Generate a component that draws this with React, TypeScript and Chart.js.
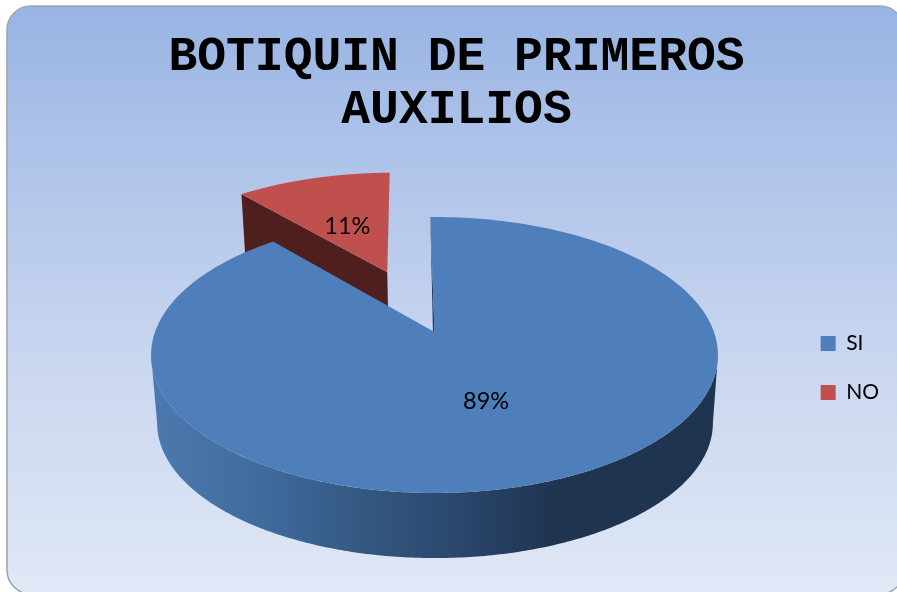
import React, { useEffect, useRef } from "react";
import { Chart, registerables } from "chart.js";

Chart.register(...registerables);

const categories = ["SI", "NO"];
const values = [89, 11];
const percentLabels = ["89%", "11%"];
const sliceColors = ["#4E7FBB", "#C0504D"];
const titleLines = ["BOTIQUIN DE PRIMEROS", "AUXILIOS"];
const explode = [0, 0.514];

const W = 911;
const H = 704;
const DEG = Math.PI / 180;

// perspective projection of the pie disc (unit circle) onto the canvas
const PERSP = 1 / 6;
const topPlane = { x: 434.5, y: 332, bx: 279.5, by: 134.17 };
const lowPlane = { x: 435, y: 400.5, bx: 274, by: 131.3 };

type Plane = typeof topPlane;
const project = (p: Plane, u: number, v: number): [number, number] => {
  const d = 1 + PERSP * v;
  return [p.x + (p.bx * u) / d, p.y - (p.by * v) / d];
};
// theta: clockwise from top, radians
const disc = (theta: number, r: number, ox: number, oy: number): [number, number] => [
  ox + r * Math.sin(theta),
  oy + r * Math.cos(theta),
];

const rimPath = (ctx: CanvasRenderingContext2D, p: Plane, a: number, b: number, ox: number, oy: number, first: boolean) => {
  const n = 240;
  for (let i = 0; i <= n; i++) {
    const t = a + ((b - a) * i) / n;
    const [u, v] = disc(t, 1, ox, oy);
    const [x, y] = project(p, u, v);
    if (i === 0 && first) ctx.moveTo(x, y);
    else ctx.lineTo(x, y);
  }
};

const cardPlugin = {
  id: "card",
  beforeDraw(chart: any) {
    const ctx: CanvasRenderingContext2D = chart.ctx;
    ctx.save();
    ctx.fillStyle = "#FFFFFF";
    ctx.fillRect(0, 0, W, H);
    const g = ctx.createLinearGradient(0, 6, 0, 594);
    g.addColorStop(0, "#98B4E3");
    g.addColorStop(0.25, "#AEC3E9");
    g.addColorStop(0.6, "#C9D6EF");
    g.addColorStop(1, "#E1E8F6");
    ctx.beginPath();
    ctx.roundRect(7, 6, 897, 588, 24);
    ctx.fillStyle = g;
    ctx.fill();
    ctx.lineWidth = 1.6;
    ctx.strokeStyle = "#A3A6AC";
    ctx.stroke();
    ctx.restore();
  },
};

const pie3dPlugin = {
  id: "pie3d",
  beforeDatasetsDraw(chart: any) {
    const ctx: CanvasRenderingContext2D = chart.ctx;
    const arcs = chart.getDatasetMeta(0).data;
    ctx.save();
    const parts = arcs.map((arc: any, i: number) => {
      const { startAngle, endAngle } = arc.getProps(["startAngle", "endAngle"], true);
      const a = startAngle + Math.PI / 2;
      const b = endAngle + Math.PI / 2;
      const mid = (a + b) / 2;
      const [ox, oy] = disc(mid, explode[i], 0, 0);
      return { a, b, mid, ox, oy, i };
    });

    // exploded slice: its visible cut face, then its top
    const red = parts[1];
    const [eu, ev] = disc(red.a, 1, red.ox, red.oy);
    ctx.beginPath();
    ctx.moveTo(...project(topPlane, red.ox, red.oy));
    ctx.lineTo(...project(topPlane, eu, ev));
    ctx.lineTo(...project(lowPlane, eu, ev));
    ctx.lineTo(...project(lowPlane, red.ox, red.oy));
    ctx.closePath();
    ctx.fillStyle = "#4E1F1D";
    ctx.fill();

    ctx.beginPath();
    ctx.moveTo(...project(topPlane, red.ox, red.oy));
    rimPath(ctx, topPlane, red.a, red.b, red.ox, red.oy, false);
    ctx.closePath();
    ctx.fillStyle = sliceColors[1];
    ctx.fill();

    // main slice: curved wall, between the two silhouette tangents
    const blue = parts[0];
    const wallA = 99.6 * DEG;
    const wallB = 260.4 * DEG;
    const wall = ctx.createLinearGradient(157, 0, 713, 0);
    wall.addColorStop(0, "#4B79AE");
    wall.addColorStop(0.2, "#3F6A9C");
    wall.addColorStop(0.38, "#335780");
    wall.addColorStop(0.55, "#2A466B");
    wall.addColorStop(0.72, "#1F344F");
    wall.addColorStop(1, "#1F344F");
    ctx.beginPath();
    rimPath(ctx, topPlane, wallA, wallB, 0, 0, true);
    rimPath(ctx, lowPlane, wallB, wallA, 0, 0, false);
    ctx.closePath();
    ctx.fillStyle = wall;
    ctx.fill();

    // main slice: sliver of the cut face seen inside the notch
    const [su, sv] = disc(blue.a, 1, 0, 0);
    const [tx, ty] = project(topPlane, su, sv);
    const [ax, ay] = project(topPlane, 0, 0);
    ctx.beginPath();
    ctx.moveTo(tx, ty);
    ctx.lineTo(ax, ay);
    ctx.lineTo(ax - 1.5, ay);
    ctx.closePath();
    ctx.fillStyle = "#1F344F";
    ctx.fill();

    // main slice: top
    ctx.beginPath();
    ctx.moveTo(ax, ay);
    rimPath(ctx, topPlane, blue.a, blue.b, 0, 0, false);
    ctx.closePath();
    ctx.fillStyle = sliceColors[0];
    ctx.fill();

    // percentage labels
    ctx.fillStyle = "#000000";
    ctx.font = "23.5px Lato";
    ctx.textAlign = "center";
    ctx.textBaseline = "middle";
    parts.forEach((s: any) => {
      const [u, v] = disc(s.mid, 0.49, s.ox, s.oy);
      const [x, y] = project(topPlane, u, v);
      ctx.fillText(percentLabels[s.i], x - 1, y + 3);
    });
    ctx.restore();
    return false;
  },
};

export default function App() {
  const ref = useRef<HTMLCanvasElement | null>(null);
  useEffect(() => {
    document.body.style.margin = "0";
    document.documentElement.style.overflow = "hidden";
    const chart = new Chart(ref.current as HTMLCanvasElement, {
      type: "pie",
      data: {
        labels: categories,
        datasets: [{ data: values, backgroundColor: sliceColors, borderWidth: 0, rotation: -1 }],
      },
      plugins: [cardPlugin, pie3dPlugin],
      options: {
        animation: false,
        responsive: false,
        devicePixelRatio: 1,
        layout: { padding: { top: 32, right: 22, bottom: 0, left: 24 } },
        plugins: {
          tooltip: { enabled: false },
          title: {
            display: true,
            text: titleLines,
            color: "#000000",
            font: { family: "'Liberation Mono'", size: 48, weight: "bold", lineHeight: 1.1 },
            padding: { top: 0, bottom: 10 },
          },
          legend: {
            display: true,
            position: "right",
            labels: {
              boxWidth: 15,
              boxHeight: 15,
              padding: 28,
              color: "#000000",
              font: { family: "Lato", size: 21 },
            },
          },
        },
      },
    } as any);
    return () => chart.destroy();
  }, []);
  return (
    <div style={{ position: "fixed", left: 0, top: 0, width: 897, height: 592, overflow: "hidden" }}>
      <canvas ref={ref} width={W} height={H} style={{ display: "block", width: W, height: H }} />
    </div>
  );
}
